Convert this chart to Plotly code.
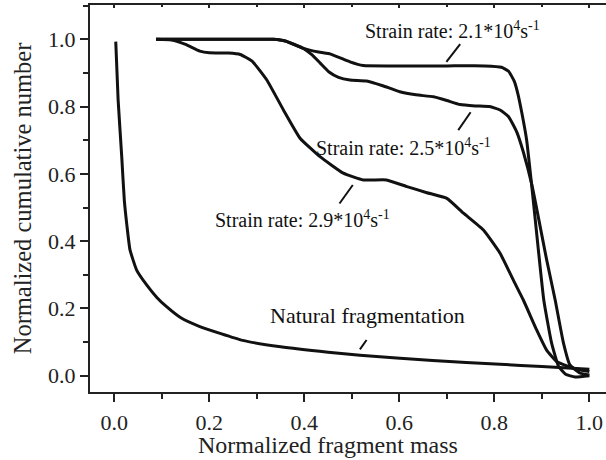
import plotly.graph_objects as go

# ---- data ----
nat_x = [0.003, 0.008, 0.0156, 0.021, 0.027, 0.033, 0.047, 0.068, 0.09, 0.11, 0.14, 0.18, 0.27, 0.35, 0.45, 0.517, 0.67, 0.812, 0.9, 1.0]
nat_y = [0.993, 0.82, 0.651, 0.522, 0.44, 0.374, 0.314, 0.27, 0.232, 0.205, 0.172, 0.146, 0.105, 0.086, 0.07, 0.061, 0.045, 0.034, 0.027, 0.019]

r21_x = [0.088, 0.2, 0.334, 0.36, 0.398, 0.43, 0.455, 0.475, 0.496, 0.524, 0.6, 0.7, 0.78, 0.815, 0.83, 0.842, 0.85, 0.858, 0.868, 0.879, 0.89, 0.904, 0.92, 0.935, 0.95, 0.97, 1.0]
r21_y = [1.0, 1.0, 1.0, 0.995, 0.973, 0.962, 0.956, 0.945, 0.933, 0.922, 0.921, 0.921, 0.921, 0.917, 0.905, 0.875, 0.835, 0.78, 0.70, 0.56, 0.41, 0.225, 0.10, 0.028, 0.004, -0.004, 0.0]

r25_x = [0.088, 0.2, 0.334, 0.36, 0.398, 0.415, 0.433, 0.452, 0.472, 0.496, 0.531, 0.565, 0.601, 0.635, 0.672, 0.70, 0.728, 0.76, 0.79, 0.812, 0.83, 0.847, 0.861, 0.879, 0.89, 0.91, 0.928, 0.945, 0.959, 0.98, 1.0]
r25_y = [1.0, 1.0, 1.0, 0.995, 0.973, 0.955, 0.93, 0.903, 0.887, 0.879, 0.876, 0.862, 0.844, 0.835, 0.829, 0.818, 0.806, 0.802, 0.80, 0.79, 0.77, 0.725, 0.665, 0.567, 0.49, 0.345, 0.225, 0.10, 0.032, 0.008, 0.002]

r29_x = [0.088, 0.12, 0.15, 0.18, 0.20, 0.24, 0.265, 0.29, 0.321, 0.356, 0.391, 0.433, 0.482, 0.524, 0.573, 0.616, 0.658, 0.70, 0.735, 0.777, 0.812, 0.84, 0.861, 0.889, 0.91, 0.931, 0.966, 1.0]
r29_y = [1.0, 0.998, 0.985, 0.965, 0.960, 0.959, 0.955, 0.935, 0.879, 0.790, 0.706, 0.651, 0.602, 0.582, 0.582, 0.562, 0.544, 0.527, 0.483, 0.433, 0.364, 0.284, 0.225, 0.136, 0.076, 0.042, 0.022, 0.012]

x_ticks = [0.0, 0.2, 0.4, 0.6, 0.8, 1.0]
x_ticklabels = ["0.0", "0.2", "0.4", "0.6", "0.8", "1.0"]
y_ticks = [0.0, 0.2, 0.4, 0.6, 0.8, 1.0]
y_ticklabels = ["0.0", "0.2", "0.4", "0.6", "0.8", "1.0"]
x_title = "Normalized fragment mass"
y_title = "Normalized cumulative number"

labels = ["Strain rate: 2.1*10<sup>4</sup>s<sup>-1</sup>",
          "Strain rate: 2.5*10<sup>4</sup>s<sup>-1</sup>",
          "Strain rate: 2.9*10<sup>4</sup>s<sup>-1</sup>",
          "Natural fragmentation"]
label_x = [0.712, 0.608, 0.397, 0.533]
label_y = [1.028, 0.681, 0.466, 0.179]
label_size = [20, 20, 20, 22]
leader_x0 = [0.699, 0.724, 0.474, 0.517]
leader_y0 = [0.933, 0.730, 0.512, 0.078]
leader_x1 = [0.728, 0.750, 0.502, 0.531]
leader_y1 = [0.986, 0.783, 0.567, 0.106]

FONT = "Liberation Serif, Times New Roman, serif"
LINE = dict(color="#111111", width=3, shape="spline", smoothing=0.4)

fig = go.Figure()
for xs, ys in [(nat_x, nat_y), (r21_x, r21_y), (r25_x, r25_y), (r29_x, r29_y)]:
    fig.add_trace(go.Scatter(x=xs, y=ys, mode="lines", line=LINE, showlegend=False, hoverinfo="skip"))

for t, x, y, s in zip(labels, label_x, label_y, label_size):
    fig.add_annotation(x=x, y=y, text=t, showarrow=False, xanchor="center", yanchor="middle",
                       font=dict(family=FONT, size=s, color="#111111"))
for x0, y0, x1, y1 in zip(leader_x0, leader_y0, leader_x1, leader_y1):
    fig.add_shape(type="line", x0=x0, y0=y0, x1=x1, y1=y1, xref="x", yref="y",
                  line=dict(color="#111111", width=2))

# x-axis title (centred as in the reference, slightly left of the plot centre)
fig.add_annotation(x=0.461, y=-0.138, xref="paper", yref="paper", text=x_title, showarrow=False,
                   xanchor="center", yanchor="middle", font=dict(family=FONT, size=24, color="#222222"))

fig.update_layout(
    width=606, height=460,
    margin=dict(l=90, r=0, t=5, b=68),
    paper_bgcolor="white", plot_bgcolor="white",
    font=dict(family=FONT, size=22, color="#222222"),
    xaxis=dict(range=[-0.0512, 1.035], tickvals=x_ticks, ticktext=x_ticklabels,
               showgrid=False, zeroline=False, showline=True, linecolor="#222222", linewidth=2,
               ticks="outside", ticklen=8, tickwidth=2, tickcolor="#222222", ticklabelstandoff=2,
               minor=dict(dtick=0.1, tick0=0, ticks="outside", ticklen=5, tickwidth=2, tickcolor="#222222"),
               tickfont=dict(size=22)),
    xaxis2=dict(overlaying="x", matches="x", side="top", showline=True, linecolor="#222222", linewidth=2,
                ticks="inside", ticklen=3, tickwidth=2, tickcolor="#222222", tickvals=x_ticks,
                showticklabels=False, showgrid=False, zeroline=False,
                minor=dict(dtick=0.1, tick0=0, ticks="inside", ticklen=2, tickwidth=2, tickcolor="#222222")),
    yaxis=dict(range=[-0.0485, 1.102], tickvals=y_ticks, ticktext=y_ticklabels,
               showgrid=False, zeroline=False, showline=True, linecolor="#222222", linewidth=2,
               ticks="outside", ticklen=8, tickwidth=2, tickcolor="#222222",
               minor=dict(dtick=0.1, tick0=0, ticks="outside", ticklen=5, tickwidth=2, tickcolor="#222222"),
               title=dict(text=y_title, font=dict(size=24.5), standoff=10),
               tickfont=dict(size=22)),
)
fig.add_trace(go.Scatter(x=[None], y=[None], xaxis="x2", showlegend=False, hoverinfo="skip"))

fig.write_html("out.html")
